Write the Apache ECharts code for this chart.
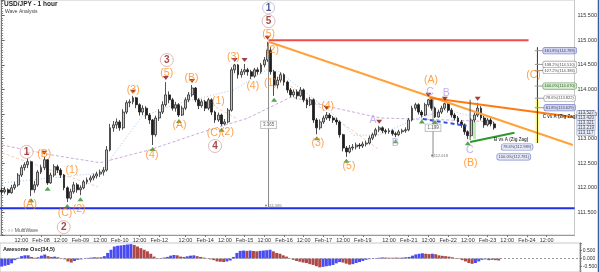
<!DOCTYPE html>
<html><head><meta charset="utf-8">
<script src="https://cdn.jsdelivr.net/npm/echarts@6/dist/echarts.min.js"></script>
<style>html,body{margin:0;padding:0;background:#fff}#c{width:600px;height:272px}</style>
</head><body><div id="c"></div>
<script>
// ---- time axis: sessions of 2-hour candles [start, count, opensAfterWeekend]
const sessions = [["2017-02-07T00:00Z",48,false],["2017-02-12T20:00Z",62,true],["2017-02-19T20:00Z",41,true],["2017-02-23T06:00Z",24,false]];

// ---- USD/JPY candles
const opens = [111.95,111.92,111.96,111.90,112.00,112.06,112.26,112.41,112.47,112.53,
111.96,112.06,112.32,112.41,112.57,112.10,112.26,112.43,112.36,112.26,
112.00,111.79,111.92,112.06,111.96,112.00,112.12,112.16,112.20,112.24,
112.28,112.32,112.36,112.77,113.22,113.28,113.34,113.22,113.54,113.73,
113.75,113.83,113.69,113.54,113.62,113.48,113.38,113.08,113.42,113.54,
113.69,113.89,113.79,113.62,113.69,113.48,113.62,113.79,113.89,114.03,
113.79,113.67,113.75,113.62,113.79,113.54,113.38,113.48,113.30,113.34,
113.58,114.40,114.50,114.30,114.36,114.40,114.36,114.27,114.40,114.36,
114.50,114.60,114.80,114.36,114.09,114.19,114.30,114.15,113.99,113.89,
113.95,113.87,113.99,113.79,113.69,113.79,113.38,113.22,113.34,113.42,
113.48,113.42,113.38,113.34,113.08,112.81,112.73,112.81,112.83,112.87,
112.85,112.89,112.91,113.01,113.08,113.18,113.22,113.16,113.14,113.16,
113.10,113.08,113.14,113.16,113.18,113.38,113.62,113.69,113.54,113.48,
113.69,113.79,113.62,113.44,113.54,113.62,113.71,113.58,113.48,113.42,
113.34,113.28,113.14,113.06,113.38,113.48,113.62,113.42,113.28,113.38,
113.30];
const closes = [111.92,111.96,111.90,112.00,112.06,112.26,112.41,112.47,112.53,111.96,
112.06,112.32,112.41,112.57,112.10,112.26,112.43,112.36,112.26,112.00,
111.79,111.92,112.06,111.96,112.00,112.12,112.16,112.20,112.24,112.28,
112.32,112.36,112.77,113.22,113.28,113.34,113.22,113.54,113.73,113.75,
113.83,113.69,113.54,113.62,113.48,113.38,113.08,113.42,113.54,113.69,
113.89,113.79,113.62,113.69,113.48,113.62,113.79,113.89,114.03,113.79,
113.67,113.75,113.62,113.79,113.54,113.38,113.48,113.30,113.34,113.58,
114.40,114.50,114.30,114.36,114.40,114.36,114.27,114.40,114.36,114.50,
114.60,114.80,114.36,114.09,114.19,114.30,114.15,113.99,113.89,113.95,
113.87,113.99,113.79,113.69,113.79,113.38,113.22,113.34,113.42,113.48,
113.42,113.38,113.34,113.08,112.81,112.73,112.81,112.83,112.87,112.85,
112.89,112.91,113.01,113.08,113.18,113.22,113.16,113.14,113.16,113.10,
113.08,113.14,113.16,113.18,113.38,113.62,113.69,113.54,113.48,113.69,
113.79,113.62,113.44,113.54,113.62,113.71,113.58,113.48,113.42,113.34,
113.28,113.14,113.06,113.38,113.48,113.62,113.42,113.28,113.38,113.30,
113.22];
const lows = [111.86,111.88,111.85,111.88,111.96,112.02,112.22,112.35,112.40,111.83,
111.90,112.02,112.28,112.36,112.06,112.08,112.22,112.30,112.20,111.95,
111.71,111.76,111.88,111.90,111.85,111.97,112.07,112.11,112.15,112.19,
112.22,112.25,112.33,112.74,113.14,113.20,113.16,113.18,113.50,113.64,
113.70,113.62,113.47,113.48,113.40,113.30,112.87,113.04,113.36,113.50,
113.65,113.72,113.57,113.55,113.44,113.46,113.58,113.74,113.85,113.74,
113.60,113.63,113.56,113.58,113.48,113.32,113.34,113.26,113.27,113.31,
113.55,114.33,114.22,114.24,114.30,114.28,114.21,114.24,114.30,114.32,
114.45,114.56,114.30,113.87,114.02,114.14,114.08,113.93,113.84,113.85,
113.80,113.84,113.74,113.62,113.66,113.32,113.09,113.18,113.30,113.38,
113.36,113.32,113.28,113.02,112.74,112.63,112.70,112.76,112.78,112.79,
112.81,112.84,112.88,112.97,113.04,113.13,113.11,113.09,113.10,113.06,
113.03,113.05,113.10,113.12,113.15,113.35,113.57,113.49,113.43,113.46,
113.65,113.57,113.42,113.43,113.50,113.58,113.53,113.43,113.37,113.29,
113.22,113.08,112.99,113.04,113.33,113.44,113.37,113.22,113.25,113.25,
113.18];
const highs = [112.00,112.02,111.99,112.06,112.12,112.30,112.46,112.52,112.61,112.55,
112.14,112.36,112.47,112.63,112.58,112.31,112.48,112.47,112.40,112.28,
112.03,111.98,112.12,112.10,112.05,112.16,112.21,112.25,112.29,112.33,
112.37,112.42,112.85,113.30,113.36,113.41,113.38,113.60,113.78,113.80,
113.87,113.85,113.72,113.68,113.66,113.52,113.40,113.47,113.60,113.76,
114.15,113.96,113.83,113.75,113.72,113.67,113.84,113.95,114.09,114.05,
113.82,113.80,113.79,113.83,113.82,113.57,113.53,113.51,113.40,113.62,
114.45,114.52,114.52,114.42,114.52,114.44,114.40,114.44,114.45,114.54,
114.66,114.97,114.86,114.40,114.26,114.35,114.33,114.18,114.03,114.00,
114.00,114.05,114.02,113.82,113.85,113.82,113.42,113.39,113.47,113.54,
113.52,113.46,113.43,113.37,113.10,112.85,112.87,112.89,112.92,112.91,
112.94,112.96,113.06,113.12,113.22,113.26,113.25,113.20,113.21,113.19,
113.14,113.18,113.20,113.23,113.42,113.67,113.73,113.72,113.58,113.73,
113.81,113.80,113.65,113.59,113.67,113.73,113.72,113.62,113.52,113.46,
113.38,113.31,113.17,113.42,113.53,113.73,113.66,113.46,113.42,113.43,
113.34];

// ---- Awesome Oscillator (34,5)
const aoValues = [-0.50,-0.45,-0.40,-0.30,-0.10,0.05,0.15,0.20,0.20,0.10,
0.05,0.08,0.18,0.25,0.15,0.10,0.12,0.08,0.02,-0.05,
-0.18,-0.25,-0.15,-0.08,-0.05,0.00,0.04,0.06,0.08,0.07,
0.08,0.15,0.35,0.55,0.75,0.80,0.82,0.85,0.88,0.90,
0.85,0.75,0.65,0.55,0.45,0.30,0.12,0.02,0.03,0.06,
0.10,0.18,0.22,0.20,0.12,0.10,0.14,0.18,0.20,0.15,
0.10,0.06,0.02,-0.05,-0.10,-0.18,-0.20,-0.22,-0.18,-0.12,
0.10,0.35,0.48,0.50,0.48,0.50,0.47,0.45,0.48,0.50,
0.52,0.55,0.45,0.35,0.30,0.20,0.12,0.02,-0.08,-0.15,
-0.20,-0.25,-0.28,-0.35,-0.40,-0.48,-0.55,-0.52,-0.48,-0.45,
-0.40,-0.30,-0.22,-0.25,-0.32,-0.38,-0.35,-0.28,-0.22,-0.15,
-0.08,-0.04,0.00,0.03,0.05,0.07,0.06,0.05,0.05,0.06,
0.05,0.06,0.08,0.10,0.18,0.26,0.30,0.33,0.30,0.28,
0.30,0.27,0.20,0.17,0.15,0.12,0.08,0.03,-0.03,-0.10,
-0.18,-0.28,-0.33,-0.28,-0.18,-0.08,-0.05,-0.10,-0.08,-0.10,
-0.12];

// ---- wave labels [text, candle position, price]
const waveOrange = [["(A)",8.6,111.67],["(B)",13.0,112.69],["(1)",21.4,112.36],["(C)",19.3,111.49],["(2)",23.6,111.57],
["(3)",40.1,113.99],["(4)",45.8,112.67],["(5)",50.3,114.34],["(A)",54.2,113.28],["(B)",57.8,114.23],
["(1)",66.0,113.77],["(C)",64.7,113.12],["(2)",68.8,113.14],["(3)",70.6,114.66],["(4)",76.5,114.07],
["(5)",81.3,115.13],["(2)",82.5,114.80],["(1)",81.9,114.13],["(3)",96.3,112.91],["(4)",99.3,113.66],
["(5)",105.8,112.45],["(A)",130.8,114.19],["(B)",142.8,112.51],["(C)",162.0,114.29]];
const waveCircled = [["1",7.6,112.73],["2",18.9,111.20],["3",50.3,114.60],["4",65.0,112.85],["5",81.3,115.39]];
const waveTop = [["1",81.3,115.66]];
const wavePurple = [["A",113.1,113.38],["B",119.9,112.91],["C",130.5,113.95],["A",132.6,113.24],["B",135.4,113.93],["C",142.6,112.77]];
const peakIdx = [8,13,40,50,58,71,74,81,99,115,130,135,145];
const troughIdx = [9,14,20,24,46,54,67,83,96,105,120,128,132,142];

// ---- drawn lines [position, price]
const redLevel = [[81.3,115.00],[160.5,115.00]];
const blueLevel = [[-0.5,111.585],[174.5,111.585]];
const longTrend = [[81.3,114.97],[174.0,112.87]];
const shortTrend = [[130.3,113.83],[174.0,113.44]];
const blueDashed = [[128.3,113.40],[141.6,113.26]];
const greenTrend = [[142.7,112.93],[156.2,113.12]];
const measure1 = [[81.3,114.95],[81.3,111.585]];
const measure2 = [[131.4,113.817],[131.4,112.618]];
const bBar = [[142.7,113.79],[142.7,112.97]];
const fibVertical = [[163.2,114.86],[163.2,112.91]];
const maPurple = [[0.1,112.87],[15.1,112.67],[30.0,112.51],[45.0,112.77],[60.1,113.11],[75.1,113.42],[88.2,113.85],[100.3,113.64],[115.4,113.42],[135.7,113.38],[150.6,113.34]];
const maBlue = [[0.1,112.10],[30.0,112.30],[42.6,113.44],[52.5,113.69],[70.6,113.99],[80.8,114.40],[84.7,114.36],[90.7,114.03],[99.7,113.58],[107.2,113.07],[114.7,113.07],[126.8,113.42],[135.7,113.58],[141.7,113.48],[150.6,113.42]];
const fadedOrange1 = [[0.1,112.71],[29.3,112.02]];
const fadedOrange2 = [[57.2,113.93],[71.3,113.42]];
const fadedOrange3 = [[84.2,114.25],[115.1,112.77]];

// ---- Fibonacci annotations [text, price]
const fibC = [["161.8%(114.789)",114.789],["138.2%(114.510)",114.510],["127.2%(114.386)",114.386],["100.0%(114.070)",114.070],["78.6%(113.822)",113.822],["61.8%(113.629)",113.629]];
const fibB = [["78.6%(112.989)",157.0,112.83],["100.0%(112.781)",156.0,112.63]];
const priceTags = [["113.527",113.52],["113.420",113.42],["113.321",113.32],["113.219",113.22],["113.117",113.12]];

// ================= build =================
const mon = ['Jan','Feb','Mar'];
const cats = [], labelText = [], labelShow = new Set();
let lastStart = -99;
const lastLabelTime = Date.parse("2017-02-24T12:00Z");
sessions.forEach(([s, n, weekend]) => {
  const t0 = Date.parse(s);
  for (let k = 0; k < n; k++) {
    const t = t0 + k * 7200000;
    const d = new Date(t);
    const idx = cats.length;
    const dd = String(d.getUTCDate()).padStart(2,'0');
    const hh = d.getUTCHours();
    cats.push(mon[d.getUTCMonth()] + '-' + dd + ' ' + String(hh).padStart(2,'0') + ':00');
    let txt = '';
    if (k === 0 && weekend) { txt = mon[d.getUTCMonth()] + '-' + dd; lastStart = idx; }
    else if (hh === 12) txt = '12:00';
    else if (hh === 0 && idx - lastStart > 3) txt = mon[d.getUTCMonth()] + '-' + dd;
    if (idx === 0 || t > lastLabelTime) txt = '';
    labelText.push(txt);
    if (txt) labelShow.add(idx);
  }
});
const N = cats.length;
const candles = opens.map((o, i) => [o, closes[i], lows[i], highs[i]]);
const aoData = aoValues.map((v, i) => ({ value: v, itemStyle: { color: (i === 0 || v >= aoValues[i-1]) ? '#4b4bf2' : '#b04848' } }));

const FONT = 'Liberation Sans, Arial, sans-serif';
function seg(data, color, width, type, z) {
  return { type: 'line', xAxisIndex: 1, yAxisIndex: 0, data, symbol: 'none', silent: true, z: z || 4,
    lineStyle: { color, width, type: type || 'solid' }, animation: false, clip: false };
}
function textSeries(items, labelOpt, extra) {
  return Object.assign({ type: 'scatter', xAxisIndex: 1, yAxisIndex: 0, silent: true, z: 10, clip: false, animation: false,
    symbol: 'circle', symbolSize: 1, itemStyle: { color: 'rgba(0,0,0,0)' },
    data: items.map(d => ({ value: [d[1], d[2]], name: d[0] })),
    label: Object.assign({ show: true, position: 'inside', formatter: p => p.name, fontFamily: FONT }, labelOpt) }, extra || {});
}
const fibStyles = [
  { bg: '#c9cdf2', bc: '#6670c8' }, { bg: '#ffffff', bc: '#888' }, { bg: '#ffffff', bc: '#888' },
  { bg: '#c8efbf', bc: '#5a9a50' }, { bg: '#ffffff', bc: '#888' }, { bg: '#c9cdf2', bc: '#6670c8' }];

const fibBoxes = textSeries(fibC.map(f => [f[0], 170.0, f[1]]), {
  fontSize: 4, color: '#222', padding: [1, 1.5], borderWidth: 0.6, borderRadius: 2 });
fibBoxes.data = fibBoxes.data.map((d, k) => Object.assign(d, { label: { backgroundColor: fibStyles[k].bg, borderColor: fibStyles[k].bc } }));

const series = [
  seg(maPurple, 'rgba(190,150,210,0.8)', 1, [3,2], 2),
  seg(maBlue, 'rgba(140,180,240,0.8)', 1, [1,2], 2),
  seg(fadedOrange1, 'rgba(250,190,150,0.8)', 1, [3,2], 2),
  seg(fadedOrange2, 'rgba(250,190,150,0.8)', 1, [3,2], 2),
  seg(fadedOrange3, 'rgba(250,190,150,0.8)', 1, [3,2], 2),
  { type: 'candlestick', xAxisIndex: 0, yAxisIndex: 0, data: candles, barWidth: 2.4, animation: false, z: 3,
    itemStyle: { color: '#c4c4c4', color0: '#1e1e1e', borderColor: '#2a2a2a', borderColor0: '#1e1e1e', borderWidth: 0.8 } },
  seg(blueLevel, '#1f2fe6', 2),
  seg(redLevel, '#f04a4a', 2),
  seg(longTrend, '#ffa23a', 2),
  seg(shortTrend, '#ff7a10', 2),
  seg(blueDashed, '#2e4fe0', 2, [4,3]),
  seg(greenTrend, '#2a9a2a', 2),
  seg(measure1, '#8a8a8a', 1),
  seg(measure2, '#8a8a8a', 1),
  seg(bBar, '#555555', 1),
  seg(fibVertical, '#333333', 1),
  { type: 'line', xAxisIndex: 1, yAxisIndex: 0, data: [], silent: true,
    markArea: { silent: true, data: [
      [{ coord: [162.4, 113.79], itemStyle: { color: '#ffff9c' } }, { coord: [163.8, 112.91] }],
      [{ coord: [143.6, 113.34], itemStyle: { color: '#b8f0b0' } }, { coord: [144.5, 112.99] }]
    ] } },
  ...fibC.map(f => seg([[162.4, f[1]], [166.5, f[1]]], '#999', 1)),
  { type: 'scatter', xAxisIndex: 0, yAxisIndex: 0, silent: true, z: 8, animation: false,
    symbol: 'triangle', symbolSize: [6,4], symbolRotate: 180, symbolOffset: [0, -4], itemStyle: { color: '#8a1010' },
    data: peakIdx.map(i => [i, highs[i]]) },
  { type: 'scatter', xAxisIndex: 0, yAxisIndex: 0, silent: true, z: 8, animation: false,
    symbol: 'triangle', symbolSize: [6,4], symbolOffset: [0, 4], itemStyle: { color: '#2e8b2e' },
    data: troughIdx.map(i => [i, lows[i]]) },
  textSeries(waveOrange, { color: '#ff8a1a', fontSize: 10.5 }),
  textSeries(wavePurple, { color: '#b49be8', fontSize: 10.5 }),
  textSeries(waveCircled, { color: '#8b1a1a', fontSize: 10, fontWeight: 'bold' },
    { symbolSize: 13, itemStyle: { color: '#ffffff', borderColor: '#d8a8a8', borderWidth: 1 } }),
  textSeries(waveTop, { color: '#1a2a7a', fontSize: 10, fontWeight: 'bold' },
    { symbolSize: 12, itemStyle: { color: '#ffffff', borderColor: '#b8b8d8', borderWidth: 1 } }),
  fibBoxes,
  textSeries([["C vs A (Zig Zag)", 170.0, 113.44]], { fontSize: 4.5, color: '#111', fontWeight: 'bold' }),
  textSeries([["B vs A (Zig Zag)", 155.2, 112.97]], { fontSize: 4.5, color: '#111', fontWeight: 'bold' }),
  textSeries(fibB, { fontSize: 4, color: '#222', padding: [1, 1.5], backgroundColor: '#dfe3f7', borderColor: '#6670c8', borderWidth: 0.6, borderRadius: 2 }),
  textSeries([["3.365", 81.3, 113.28], ["1.199", 131.4, 113.22]], { fontSize: 4.5, color: '#333', padding: [1, 2], backgroundColor: '#fff', borderColor: '#999', borderWidth: 0.6 }),
  textSeries([["\u25BC111.585", 82.6, 111.64], ["\u25BC112.618", 133.2, 112.64]], { fontSize: 4, color: '#555' }),
  textSeries(priceTags.map(t => [t[0], 174.5, t[1]]), { position: 'right', distance: 2, fontSize: 4.5, color: '#222', padding: [0, 1], backgroundColor: '#e4e8f4', borderColor: '#8090c0', borderWidth: 0.5 }),
  { type: 'bar', xAxisIndex: 2, yAxisIndex: 1, data: aoData, barCategoryGap: '10%', animation: false, silent: true,
    markLine: { silent: true, symbol: 'none', label: { show: false }, lineStyle: { color: '#999', type: [2,2], width: 1 }, data: [{ yAxis: 0 }] } }
];

const chart = echarts.init(document.getElementById('c'), null, { renderer: 'canvas' });
chart.setOption({
  animation: false,
  backgroundColor: '#ffffff',
  textStyle: { fontFamily: FONT },
  grid: [
    { left: -2, right: 20, top: 0, bottom: 37, show: true, borderColor: '#c8c8c8', borderWidth: 1 },
    { left: -2, right: 20, top: 243, bottom: 0, show: true, borderColor: '#c8c8c8', borderWidth: 1 }
  ],
  xAxis: [
    { type: 'category', gridIndex: 0, data: cats, boundaryGap: true,
      axisLine: { show: true, lineStyle: { color: '#9a9a9a' } },
      axisTick: { show: true, interval: (i) => labelShow.has(i), alignWithLabel: true, length: 2, lineStyle: { color: '#777' } },
      axisLabel: { interval: (i) => labelShow.has(i), formatter: (v, i) => labelText[i], fontSize: 5.5, color: '#333', margin: 2, hideOverlap: false },
      splitLine: { show: false } },
    { type: 'value', gridIndex: 0, min: -0.5, max: N - 0.5, show: false },
    { type: 'category', gridIndex: 1, data: cats, boundaryGap: true, show: false }
  ],
  yAxis: [
    { type: 'value', gridIndex: 0, position: 'right', min: 111.04, max: 115.82, splitNumber: 9, scale: true,
      axisLine: { show: true, lineStyle: { color: '#777' } },
      axisTick: { show: true, length: 3, lineStyle: { color: '#666' } },
      minorTick: { show: true, splitNumber: 10, length: 1.5, lineStyle: { color: '#888' } },
      axisLabel: { fontSize: 5.5, color: '#333', margin: 3, showMinLabel: false, showMaxLabel: false, formatter: v => v.toFixed(3) },
      splitLine: { show: false } },
    { type: 'value', gridIndex: 1, position: 'right', min: -0.84, max: 0.97, splitNumber: 3,
      axisLine: { show: true, lineStyle: { color: '#777' } },
      axisTick: { show: true, length: 2, lineStyle: { color: '#666' } },
      minorTick: { show: true, splitNumber: 5, length: 1.5, lineStyle: { color: '#888' } },
      axisLabel: { fontSize: 5, color: '#333', margin: 3, showMinLabel: false, showMaxLabel: false, formatter: v => v.toFixed(3) },
      splitLine: { show: false } }
  ],
  graphic: [
    { type: 'text', left: 4, top: 1, style: { text: 'USD/JPY - 1 hour', font: 'bold 6.5px ' + FONT, fill: '#222' } },
    { type: 'text', left: 5, top: 9, style: { text: 'Wave Analysis', font: '5px ' + FONT, fill: '#444' } },
    { type: 'text', left: 3, top: 228, style: { text: '\u25CB \u25CB\u25CB MultiWave', font: '5px ' + FONT, fill: '#555' } },
    { type: 'text', left: 3, top: 246, style: { text: 'Awesome Osc(34,5)', font: 'bold 5.5px ' + FONT, fill: '#222' } },
    { type: 'line', shape: { x1: 598.5, y1: 0, x2: 598.5, y2: 272 }, style: { stroke: '#2f5f9f', lineWidth: 1.5 } }
  ],
  series
});
</script>
</body></html>
